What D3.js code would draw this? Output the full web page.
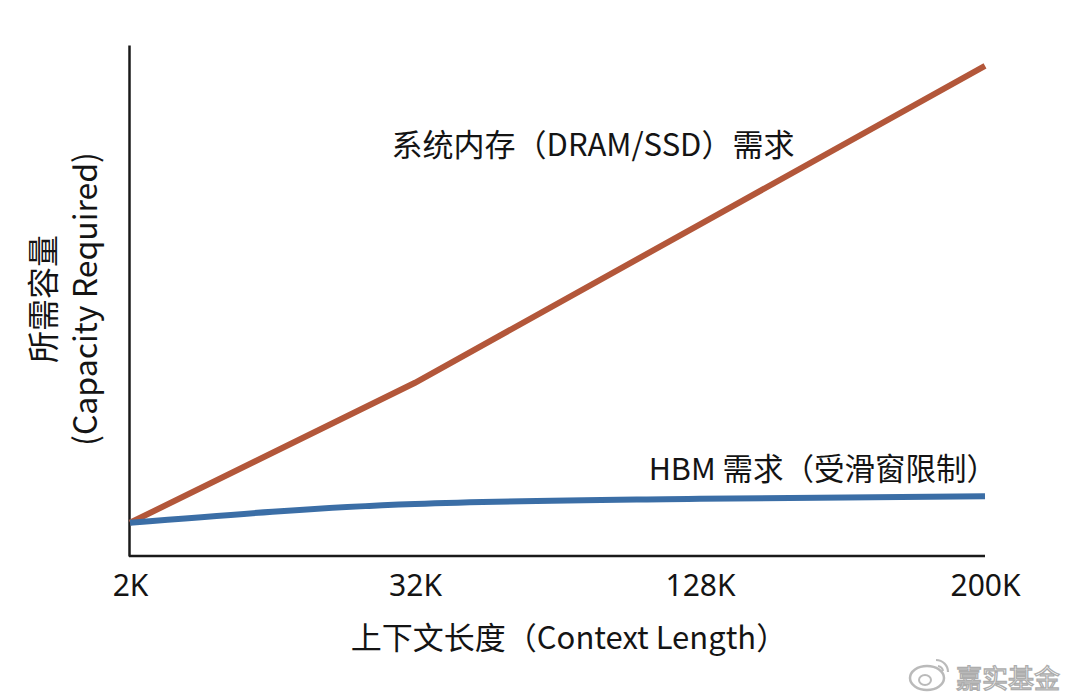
<!DOCTYPE html>
<html>
<head>
<meta charset="utf-8">
<script src="https://cdn.jsdelivr.net/npm/d3@7"></script>
<style>
  html, body { margin: 0; padding: 0; background: #fff; }
  svg { display: block; }
  text { font-family: "Noto Sans CJK SC", "Noto Sans", sans-serif; fill: #141414; }
</style>
</head>
<body>
<svg id="chart" width="1072" height="700"></svg>
<script>
// ---- data ----
const categories = ["2K", "32K", "128K", "200K"];
const dramValues = [6.5, 33.9, 64.9, 95.9];   // 系统内存（DRAM/SSD）需求
const hbmValues  = [6.5, 10.2, 11.2, 11.7];   // HBM 需求（受滑窗限制）
const yDomain = [0, 100];

(function () {
const svg = d3.select("#chart");
const mLeft = 130, mRight = 985, mTop = 45, mBottom = 556;

const x = d3.scalePoint().domain(categories).range([mLeft, mRight]);
const y = d3.scaleLinear().domain(yDomain).range([mBottom, mTop]);

// axes
const xAxis = d3.axisBottom(x).tickSize(0).tickPadding(19).tickSizeOuter(0);
const gx = svg.append("g").attr("transform", `translate(0,${mBottom})`).call(xAxis);
gx.select(".domain").attr("d", `M${mLeft - 1},0H${mRight}`).attr("stroke", "#1a1a1a").attr("stroke-width", 2.5);
gx.selectAll("text").attr("font-size", 30).attr("fill", "#141414")
  .style("font-family", '"Noto Sans", "Noto Sans CJK SC", sans-serif');

const yAxis = d3.axisLeft(y).ticks(0).tickSize(0).tickSizeOuter(0);
const gy = svg.append("g").attr("transform", `translate(${mLeft - 1},0)`).call(yAxis);
gy.select(".domain").attr("stroke", "#1a1a1a").attr("stroke-width", 2.5);

// lines
const line = d3.line().x((d, i) => x(categories[i])).y(d => y(d));
svg.append("path").datum(dramValues)
  .attr("d", line.curve(d3.curveLinear))
  .attr("fill", "none").attr("stroke", "#b3573a").attr("stroke-width", 6);
svg.append("path").datum(hbmValues)
  .attr("d", d3.line().x((d, i) => x(categories[i])).y(d => y(d)).curve(d3.curveMonotoneX))
  .attr("fill", "none").attr("stroke", "#3b6ea6").attr("stroke-width", 6);

// annotations
svg.append("text").attr("x", 593).attr("y", 156).attr("text-anchor", "middle")
  .attr("font-size", 31).text("系统内存（DRAM/SSD）需求");
svg.append("text").attr("x", 997).attr("y", 480).attr("text-anchor", "end")
  .attr("font-size", 30.5).text("HBM 需求（受滑窗限制）");

// axis titles
svg.append("text").attr("x", 569).attr("y", 649).attr("text-anchor", "middle")
  .attr("font-size", 31).text("上下文长度（Context Length）");

const yt = svg.append("g").attr("transform", "translate(0,299) rotate(-90)");
yt.append("text").attr("x", 0).attr("y", 55).attr("text-anchor", "middle")
  .attr("font-size", 32).text("所需容量");
yt.append("text").attr("x", 0).attr("y", 97).attr("text-anchor", "middle")
  .attr("font-size", 32).text("(Capacity Required)");

// watermark
const wm = svg.append("g").attr("opacity", 0.8);
wm.append("ellipse").attr("cx", 927).attr("cy", 678).attr("rx", 17).attr("ry", 12)
  .attr("fill", "none").attr("stroke", "#aaa").attr("stroke-width", 2.5);
wm.append("ellipse").attr("cx", 925).attr("cy", 680).attr("rx", 6).attr("ry", 5)
  .attr("fill", "none").attr("stroke", "#aaa").attr("stroke-width", 2);
wm.append("path").attr("d", "M936,660 a12,12 0 0 1 12,12 M938,666 a6,6 0 0 1 5,5")
  .attr("fill", "none").attr("stroke", "#aaa").attr("stroke-width", 2.2);
wm.append("text").attr("x", 1060).attr("y", 688).attr("text-anchor", "end")
  .attr("font-size", 26).style("fill", "#fff").attr("stroke", "#999").attr("stroke-width", 1.3)
  .text("嘉实基金");
})();
</script>
</body>
</html>
